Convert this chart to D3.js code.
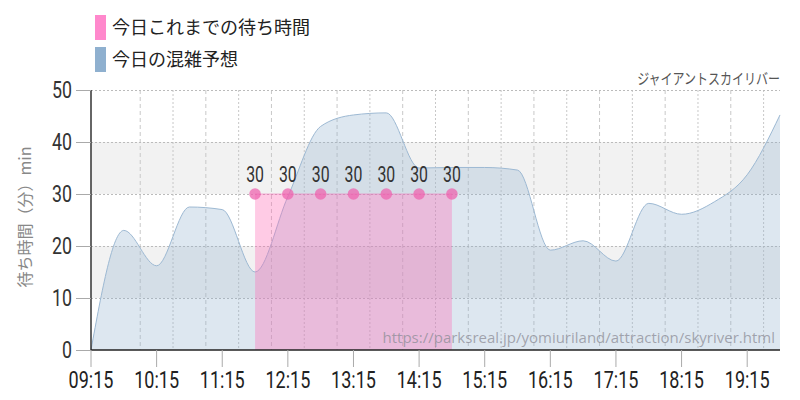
<!DOCTYPE html>
<html><head><meta charset="utf-8">
<script src="https://cdn.jsdelivr.net/npm/d3@7"></script>
<style>body{margin:0;background:#fff}svg{display:block}</style>
</head><body>
<svg id="c" width="800" height="400"></svg>
<script>
// ---- data ----
const forecastTimes = ["09:15","09:45","10:15","10:45","11:15","11:45","12:15","12:45","13:15","13:45","14:15","14:45","15:15","15:45","16:15","16:45","17:15","17:45","18:15","18:45","19:15","19:45"];
const forecastValues = [0,23,16.2,27.5,27,15,29.5,43,45.2,45.6,35,35.1,35.1,34.6,19.2,21,17.1,28.2,26.1,28.5,33.7,45.2];
const actualTimes = ["11:45","12:15","12:45","13:15","13:45","14:15","14:45"];
const actualValues = [30,30,30,30,30,30,30];
const xTickLabels = ["09:15","10:15","11:15","12:15","13:15","14:15","15:15","16:15","17:15","18:15","19:15"];
const yTicks = [0,10,20,30,40,50];
const legendLabels = ["今日これまでの待ち時間","今日の混雑予想"];
const titleText = "ジャイアントスカイリバー";
const yAxisTitle = "待ち時間（分）min";
const sourceText = "https://parksreal.jp/yomiuriland/attraction/skyriver.html";

const svg = d3.select("#c");
const parseT = d3.timeParse("%H:%M");
const L = 91, R = 780, T = 90, B = 350;
const x = d3.scaleTime().domain([parseT("09:15"), parseT("19:45")]).range([L, R]);
const y = d3.scaleLinear().domain([0, 50]).range([B, T]);
const NUM = "Roboto, 'DejaVu Sans', sans-serif";
const JP = "'Noto Sans CJK JP', sans-serif";

function condense(sel, f){
  sel.each(function(){
    const w = this.getComputedTextLength();
    d3.select(this).attr("textLength", w*f).attr("lengthAdjust","spacingAndGlyphs");
  });
}

// bands
[[10,20],[30,40]].forEach(b=>{
  svg.append("rect").attr("x",L).attr("width",R-L).attr("y",y(b[1])).attr("height",y(b[0])-y(b[1])).attr("fill","#f2f2f2");
});

// vertical grid every 30 min
const halfHours = d3.timeMinute.every(30).range(parseT("09:45"), d3.timeMinute.offset(parseT("19:45"),1));
svg.append("g").selectAll("line").data(halfHours).join("line")
  .attr("x1",d=>x(d)).attr("x2",d=>x(d)).attr("y1",T).attr("y2",B)
  .attr("stroke","#c8c8c8").attr("stroke-width",1)
  .attr("stroke-dasharray",(d,i)=> i%2===0 ? "4,3" : "2,2");

// horizontal grid
svg.append("g").selectAll("line").data(yTicks.filter(v=>v>0)).join("line")
  .attr("x1",L).attr("x2",R).attr("y1",d=>y(d)+0.5).attr("y2",d=>y(d)+0.5)
  .attr("stroke","#bbb").attr("stroke-dasharray","2,2");

// forecast area
const fData = forecastTimes.map((t,i)=>({t:parseT(t), v:forecastValues[i]}));
const aData = actualTimes.map((t,i)=>({t:parseT(t), v:actualValues[i]}));
svg.append("path").datum(fData)
  .attr("d", d3.area().x(d=>x(d.t)).y0(B).y1(d=>y(d.v)).curve(d3.curveMonotoneX))
  .attr("fill","rgba(143,176,204,0.3)");
svg.append("path").datum(fData)
  .attr("d", d3.line().x(d=>x(d.t)).y(d=>y(d.v)).curve(d3.curveMonotoneX))
  .attr("fill","none").attr("stroke","#9db9d3").attr("stroke-width",1);

// actual area
svg.append("path").datum(aData)
  .attr("d", d3.area().x(d=>x(d.t)).y0(B).y1(d=>y(d.v)))
  .attr("fill","rgba(255,105,180,0.35)");
svg.append("path").datum(aData)
  .attr("d", d3.line().x(d=>x(d.t)).y(d=>y(d.v)))
  .attr("fill","none").attr("stroke","rgba(240,110,180,0.5)").attr("stroke-width",1);
svg.append("g").selectAll("circle").data(aData).join("circle")
  .attr("cx",d=>x(d.t)).attr("cy",d=>y(d.v)).attr("r",5.8)
  .attr("fill","rgba(238,100,175,0.75)");
svg.append("g").selectAll("text").data(aData).join("text")
  .attr("x",d=>x(d.t)).attr("y",d=>y(d.v)-12).attr("text-anchor","middle")
  .attr("font-family",NUM).attr("font-size",22).attr("fill","#333")
  .text(d=>d.v).call(condense,0.72);

// watermark
svg.append("text").attr("x",775).attr("y",343).attr("text-anchor","end")
  .attr("font-family","'Open Sans', sans-serif").attr("font-size",15).attr("fill","rgba(140,140,150,0.75)")
  .text(sourceText).call(condense,1.0);

// axes lines
svg.append("line").attr("x1",L).attr("x2",L).attr("y1",T).attr("y2",B).attr("stroke","#333").attr("stroke-width",1.5);
svg.append("line").attr("x1",L).attr("x2",R).attr("y1",B).attr("y2",B).attr("stroke","#222").attr("stroke-width",1.5);

// y ticks
const yg = svg.append("g");
yg.selectAll("line").data(yTicks).join("line")
  .attr("x1",76).attr("x2",L).attr("y1",d=>y(d)+0.5).attr("y2",d=>y(d)+0.5).attr("stroke","#aaa");
yg.selectAll("text").data(yTicks).join("text")
  .attr("x",72).attr("y",d=>y(d)+8).attr("text-anchor","end")
  .attr("font-family",NUM).attr("font-size",24).attr("fill","#333")
  .text(d=>d).call(condense,0.74);

// x ticks
const xg = svg.append("g");
const xTickDates = xTickLabels.map(parseT);
xg.selectAll("line").data(xTickDates).join("line")
  .attr("x1",d=>x(d)).attr("x2",d=>x(d)).attr("y1",B).attr("y2",367).attr("stroke","#aaa");
xg.selectAll("text").data(xTickDates).join("text")
  .attr("x",d=>x(d)).attr("y",388).attr("text-anchor","middle")
  .attr("font-family",NUM).attr("font-size",24).attr("fill","#222")
  .text((d,i)=>xTickLabels[i]).call(condense,0.75);

// y axis title
svg.append("text").attr("transform","translate(31,217) rotate(-90)").attr("text-anchor","middle")
  .attr("font-family",JP).attr("font-size",16).attr("fill","#888").text(yAxisTitle);

// top right title
svg.append("g").attr("transform","translate(780,84) scale(0.8,1)")
  .append("text").attr("x",0).attr("y",0).attr("text-anchor","end")
  .attr("font-family",JP).attr("font-size",15).attr("fill","#555")
  .text(titleText);

// legend
const legColors = ["#ff88cc","#8fb0cf"];
legendLabels.forEach((l,i)=>{
  svg.append("rect").attr("x",95).attr("y",15+i*32).attr("width",11).attr("height",25).attr("fill",legColors[i]);
  svg.append("text").attr("x",112).attr("y",34+i*32).attr("font-family",JP).attr("font-size",18).attr("fill","#222").text(l);
});
</script>
</body></html>
